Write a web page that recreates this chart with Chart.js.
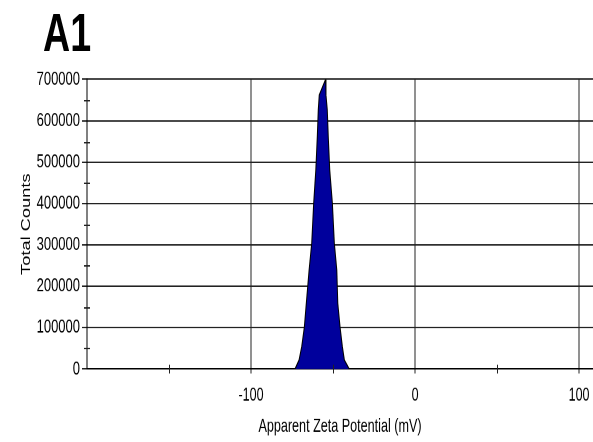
<!DOCTYPE html>
<html>
<head>
<meta charset="utf-8">
<script src="https://cdn.jsdelivr.net/npm/chart.js@4.4.1/dist/chart.umd.min.js"></script>
<style>
  html, body { margin: 0; background: #fff; }
  #page { position: relative; width: 593px; height: 442px; overflow: visible; }
  /* the panel is drawn in a short box and stretched tall */
  #wrap {
    position: absolute;
    left: 0;
    top: 0;
    width: 593px;
    height: 305px;
    transform: scaleY(1.449);
    transform-origin: 0 0;
  }
  #myChart { display: block; }
  #panel {
    position: absolute;
    left: 43px;
    top: 3.5px;
    font: bold 37.6px "Liberation Sans Narrow", "Liberation Sans", Arial, sans-serif;
    line-height: 1;
    color: #000;
    z-index: 2;
  }
</style>
</head>
<body>
<div id="page">
<div id="wrap">
  <div id="panel">A1</div>
  <canvas id="myChart" width="593" height="305"></canvas>
</div>
</div>
<script>
//Zeta potential distribution (mV vs total counts)
var potential = [-73.2, -70.7, -69.1, -67.5, -66.3, -64.6, -63.0, -61.8, -60.5, -59.6, -59.0, -58.4, -54.5,
                 -54.3, -53.5, -52.9, -52.0, -50.4, -49.2, -47.7, -47.1, -45.7, -44.3, -43.1, -40.1];
var counts = [0, 22000, 54000, 101000, 159000, 239000, 304000, 401000, 481000, 561000, 626000, 662000, 700000,
              662000, 626000, 561000, 481000, 401000, 304000, 239000, 159000, 101000, 54000, 22000, 0];

//Axis ticks
var xTicks = [-200, -150, -100, -50, 0, 50, 100];
var xLabelled = [-100, 0, 100];
var yStep = 50000;
var yLabelStep = 100000;

var points = [];
for (let i = 0; i < potential.length; i++) {
    points.push({ x: potential[i], y: counts[i] });
}

Chart.defaults.font.family = '"Liberation Sans", Arial, sans-serif';
Chart.defaults.color = '#000';

const lineColor = '#222';

//small ticks that cross the axis lines
const minorTicks = {
    id: 'minorTicks',
    afterDraw(chart) {
        const ctx = chart.ctx;
        const area = chart.chartArea;
        const xs = chart.scales.x;
        const ys = chart.scales.y;
        ctx.save();
        ctx.strokeStyle = lineColor;
        ctx.lineWidth = 1;
        ctx.beginPath();
        ys.ticks.forEach(function (t) {
            if (t.value % yLabelStep !== 0) {
                const py = Math.round(ys.getPixelForValue(t.value)) + 0.5;
                ctx.moveTo(area.left - 3, py);
                ctx.lineTo(area.left + 3, py);
            }
        });
        xs.ticks.forEach(function (t) {
            if (xLabelled.indexOf(t.value) < 0 && t.value !== xTicks[0]) {
                const px = Math.round(xs.getPixelForValue(t.value)) + 0.5;
                ctx.moveTo(px, area.bottom - 3);
                ctx.lineTo(px, area.bottom + 3);
            }
        });
        ctx.stroke();
        ctx.restore();
    }
};

const config = {
    type: 'line',
    data: {
        datasets: [{
            label: 'Total Counts',
            data: points,
            borderColor: '#000',
            borderWidth: 1,
            backgroundColor: '#00009c',
            fill: 'origin',
            pointRadius: 0,
            tension: 0
        }]
    },
    options: {
        responsive: false,
        devicePixelRatio: 2,
        animation: false,
        layout: { padding: { top: 54.7, left: 9, right: 0, bottom: 0 } },
        plugins: {
            legend: { display: false },
            tooltip: { enabled: false }
        },
        scales: {
            x: {
                type: 'linear',
                min: -200,
                max: 108.5,
                afterBuildTicks: function (scale) {
                    scale.ticks = xTicks.map(function (v) { return { value: v }; });
                },
                afterFit: function (scale) {
                    // let the plot run to the right edge, fixed axis band height
                    scale.paddingLeft = 0;
                    scale.paddingRight = 0;
                    scale.height = 50.3;
                },
                ticks: {
                    autoSkip: false,
                    maxRotation: 0,
                    padding: 8,
                    font: { size: 12.5 },
                    callback: function (v) {
                        return xLabelled.indexOf(v) >= 0 ? String(v) : '';
                    }
                },
                grid: {
                    color: function (c) {
                        return c.tick && xLabelled.indexOf(c.tick.value) >= 0 ? lineColor : 'transparent';
                    },
                    tickColor: function (c) {
                        return c.tick && xLabelled.indexOf(c.tick.value) >= 0 ? lineColor : 'transparent';
                    },
                    tickLength: 3,
                    lineWidth: 1
                },
                border: { color: '#000', width: 1 },
                title: {
                    display: true,
                    text: 'Apparent Zeta Potential (mV)',
                    font: { size: 12.6 },
                    padding: { top: 6.2, bottom: 3 }
                }
            },
            y: {
                min: 0,
                max: 700000,
                ticks: {
                    stepSize: yStep,
                    autoSkip: false,
                    padding: 2,
                    font: { size: 13 },
                    callback: function (v) {
                        return v % yLabelStep === 0 ? String(v) : '';
                    }
                },
                grid: {
                    color: function (c) {
                        return c.tick && c.tick.value % yLabelStep === 0 ? lineColor : 'transparent';
                    },
                    tickColor: function (c) {
                        return c.tick && c.tick.value % yLabelStep === 0 ? lineColor : 'transparent';
                    },
                    tickLength: 5,
                    lineWidth: 1
                },
                border: { color: '#000', width: 1 },
                title: {
                    display: true,
                    text: 'Total Counts',
                    font: { size: 12.6 },
                    padding: { top: 10, bottom: 0.5 }
                }
            }
        }
    },
    plugins: [minorTicks]
};

var myChart = new Chart(
    document.getElementById('myChart'),
    config
);
</script>
</body>
</html>
